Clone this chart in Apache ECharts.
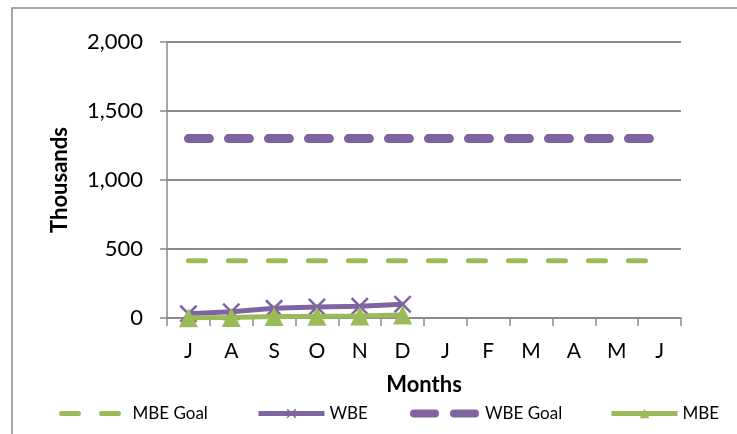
<!DOCTYPE html>
<html>
<head>
<meta charset="utf-8">
<title>WBE / MBE</title>
<script src="https://cdn.jsdelivr.net/npm/echarts@6/dist/echarts.min.js"></script>
<style>
  html, body { margin: 0; padding: 0; background: #fff; }
  #chart { width: 737px; height: 434px; }
</style>
</head>
<body>
<div id="chart"></div>
<script>
// data (thousands)
var months = ['J', 'A', 'S', 'O', 'N', 'D', 'J', 'F', 'M', 'A', 'M', 'J']
var mbeGoal = [415, 415, 415, 415, 415, 415, 415, 415, 415, 415, 415, 415]
var wbeGoal = [1300, 1300, 1300, 1300, 1300, 1300, 1300, 1300, 1300, 1300, 1300, 1300]
var wbe = [30, 45, 70, 80, 85, 100]
var mbe = [2, 4, 10, 12, 15, 22]
var yTicks = [0, 500, 1000, 1500, 2000]

var purple = '#8064A2'
var green = '#9BBB59'
var gray = '#8a8a8a'
var font = 'Lato'

var crossPath = 'path://M0,1L1,0L5,4L9,0L10,1L6,5L10,9L9,10L5,6L1,10L0,9L4,5Z'

var chart = echarts.init(document.getElementById('chart'))

function legendAt(name, left, lineWidth, hideSymbol) {
  return {
    data: [name],
    left: left,
    top: 400,
    itemWidth: 66,
    itemHeight: 12,
    itemGap: 0,
    lineStyle: { width: lineWidth },
    itemStyle: hideSymbol ? { opacity: 0 } : {},
    textStyle: { fontFamily: font, fontSize: 17, color: '#000', padding: [0, 0, 0, 0] }
  }
}

chart.setOption({
  animation: false,
  graphic: [{
    type: 'rect',
    shape: { x: 12, y: 8, width: 900, height: 600 },
    style: { fill: 'none', stroke: gray, lineWidth: 1.5 },
    silent: true
  }],
  grid: {
    left: 167,
    right: 56,
    top: 42,
    bottom: 116
  },
  legend: [
    legendAt('MBE Goal', 54, 5, true),
    legendAt('WBE', 251, 5, false),
    legendAt('WBE Goal', 405, 8, true),
    legendAt('MBE', 604, 5, false)
  ],
  xAxis: {
    type: 'category',
    data: months,
    boundaryGap: true,
    name: 'Months',
    nameLocation: 'middle',
    nameGap: 56,
    nameTextStyle: { fontFamily: font, fontSize: 22, fontWeight: 'bold', color: '#000' },
    axisLine: { lineStyle: { color: gray, width: 1.5 } },
    axisTick: { show: true, length: 8, alignWithLabel: false, lineStyle: { color: gray, width: 1.5 } },
    axisLabel: { fontFamily: font, fontSize: 21, color: '#000', margin: 23 }
  },
  yAxis: {
    type: 'value',
    min: yTicks[0],
    max: yTicks[yTicks.length - 1],
    interval: 500,
    name: 'Thousands',
    nameLocation: 'middle',
    nameGap: 96,
    nameTextStyle: { fontFamily: font, fontSize: 22, fontWeight: 'bold', color: '#000' },
    axisLine: { show: true, lineStyle: { color: gray, width: 1.5 } },
    axisTick: { show: true, length: 7, lineStyle: { color: gray, width: 1.5 } },
    splitLine: { lineStyle: { color: gray, width: 2 } },
    axisLabel: {
      fontFamily: font,
      fontSize: 22,
      color: '#000',
      margin: 24,
      formatter: function (v) { return v.toLocaleString('en-US') }
    }
  },
  series: [
    {
      name: 'MBE Goal',
      type: 'line',
      data: mbeGoal,
      symbol: 'none',
      lineStyle: { color: green, width: 5, type: [17, 23], cap: 'round' },
      itemStyle: { color: green },
      z: 2
    },
    {
      name: 'WBE',
      type: 'line',
      data: wbe,
      symbol: crossPath,
      symbolSize: 18,
      lineStyle: { color: purple, width: 5 },
      itemStyle: { color: purple },
      z: 3
    },
    {
      name: 'WBE Goal',
      type: 'line',
      data: wbeGoal,
      symbol: 'none',
      lineStyle: { color: purple, width: 9, type: [21, 19], cap: 'round' },
      itemStyle: { color: purple },
      z: 2
    },
    {
      name: 'MBE',
      type: 'line',
      data: mbe,
      symbol: 'triangle',
      symbolSize: 19,
      lineStyle: { color: green, width: 5 },
      itemStyle: { color: green },
      z: 4
    }
  ]
})
</script>
</body>
</html>
